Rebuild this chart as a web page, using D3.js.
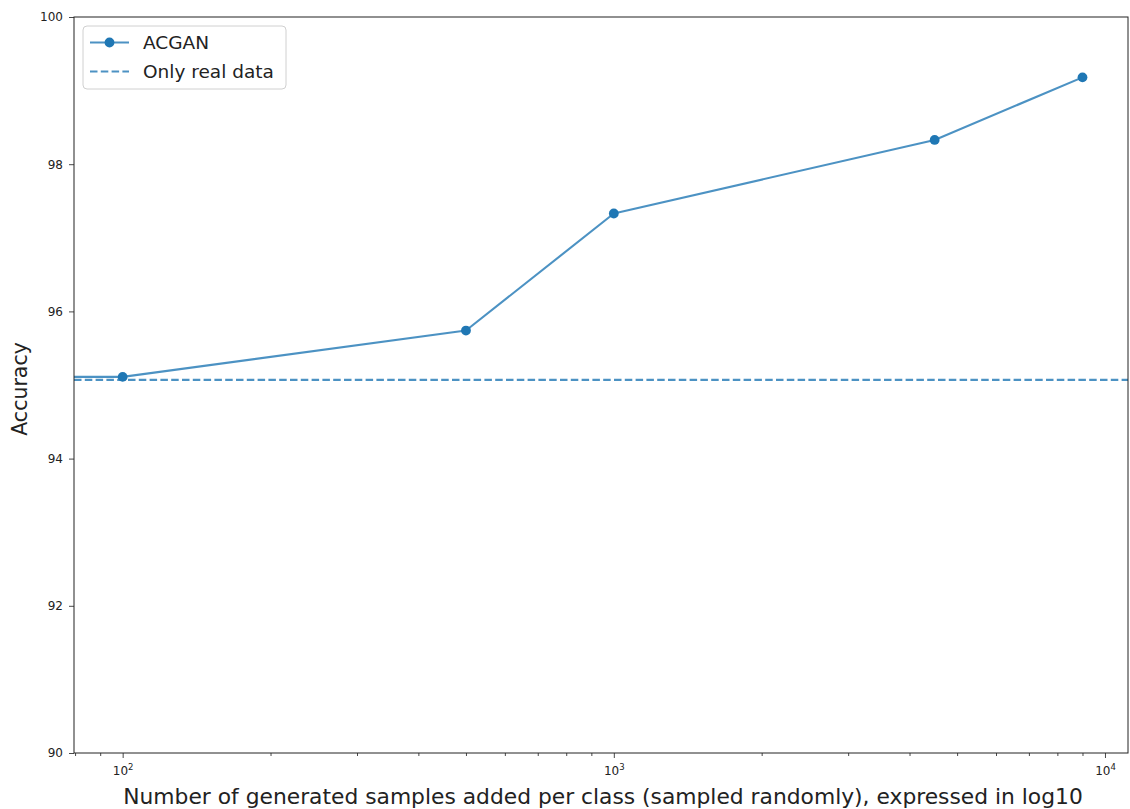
<!DOCTYPE html>
<html>
<head>
<meta charset="utf-8">
<script src="https://cdn.jsdelivr.net/npm/d3@7"></script>
<style>
  html, body { margin: 0; padding: 0; background: #fff; }
  svg { display: block; font-family: "DejaVu Sans", sans-serif; }
</style>
</head>
<body>
<svg id="chart" width="1130" height="809"></svg>
<script>
// Samples added per class (0 = baseline run, drawn to the left edge on the log axis)
const samples = [0, 100, 500, 1000, 4500, 9000];
const acganAccuracy = [95.11, 95.11, 95.74, 97.33, 98.33, 99.18];
const realOnlyAccuracy = 95.07;
const yTicks = [90, 92, 94, 96, 98, 100];
const xMajorTicks = [100, 1000, 10000];
const seriesNames = ["ACGAN", "Only real data"];

const W = 1130, H = 809;
const margin = { left: 74, right: 2, top: 17, bottom: 56 };
const blue = "#1f77b4";

const svg = d3.select("#chart");

const x = d3.scaleLog()
  .domain([79.6, 11140])
  .range([margin.left, W - margin.right])
  .clamp(true);
const y = d3.scaleLinear()
  .domain([90, 100])
  .range([H - margin.bottom, margin.top]);

const x0 = margin.left, x1 = W - margin.right;
const y0 = H - margin.bottom, y1 = margin.top;

// clip region for plotted data
svg.append("defs").append("clipPath").attr("id", "plotClip")
  .append("rect").attr("x", x0).attr("y", y1).attr("width", x1 - x0).attr("height", y0 - y1);

const plot = svg.append("g").attr("clip-path", "url(#plotClip)");

// baseline: real data only
plot.append("line")
  .attr("x1", x0).attr("x2", x1)
  .attr("y1", y(realOnlyAccuracy)).attr("y2", y(realOnlyAccuracy))
  .attr("stroke", blue).attr("stroke-opacity", 0.8)
  .attr("stroke-width", 2.1).attr("stroke-dasharray", "7.5,3.3");

const pts = samples.map((s, i) => ({ s, v: acganAccuracy[i] }));
plot.append("path")
  .datum(pts)
  .attr("fill", "none")
  .attr("stroke", blue).attr("stroke-opacity", 0.8)
  .attr("stroke-width", 2.1)
  .attr("stroke-linejoin", "round")
  .attr("d", d3.line().x(d => x(d.s)).y(d => y(d.v)));

plot.selectAll("circle.pt")
  .data(pts.filter(d => d.s > 0))
  .join("circle")
  .attr("class", "pt")
  .attr("cx", d => x(d.s)).attr("cy", d => y(d.v))
  .attr("r", 4.9).attr("fill", blue);

// axes
const xMinor = [];
for (let e = 1; e <= 4; e++) for (let m = 2; m <= 9; m++) {
  const v = m * Math.pow(10, e);
  if (v >= x.domain()[0] && v <= x.domain()[1]) xMinor.push(v);
}

const xAxisG = svg.append("g").attr("transform", `translate(0,${y0})`);
xAxisG.call(d3.axisBottom(x).tickValues(xMinor).tickSize(3).tickFormat(""))
  .call(g => g.select(".domain").remove());
const xMajorG = svg.append("g").attr("transform", `translate(0,${y0})`);
xMajorG.call(d3.axisBottom(x).tickValues(xMajorTicks).tickSize(5).tickFormat(""))
  .call(g => g.select(".domain").remove());
xAxisG.selectAll(".tick line").attr("stroke", "#333").attr("stroke-width", 0.9);
xMajorG.selectAll(".tick line").attr("stroke", "#333").attr("stroke-width", 0.9);

// superscript exponent labels
xMajorG.selectAll(".tick").each(function (d) {
  const t = d3.select(this).append("text")
    .attr("y", 22).attr("text-anchor", "middle")
    .attr("fill", "#222").attr("font-size", 12)
    .attr("font-family", "DejaVu Sans, sans-serif");
  t.append("tspan").text("10");
  t.append("tspan").attr("dy", -5).attr("font-size", 8.5)
    .text(Math.round(Math.log10(d)));
});

const yAxisG = svg.append("g").attr("transform", `translate(${x0},0)`);
yAxisG.call(d3.axisLeft(y).tickValues(yTicks).tickSize(5).tickPadding(6).tickFormat(d3.format("d")))
  .call(g => g.select(".domain").remove());
yAxisG.selectAll(".tick line").attr("stroke", "#333").attr("stroke-width", 0.9);
yAxisG.selectAll(".tick text")
  .attr("font-size", 12).attr("fill", "#222")
  .attr("font-family", "DejaVu Sans, sans-serif");

// frame
svg.append("rect")
  .attr("x", x0).attr("y", y1).attr("width", x1 - x0).attr("height", y0 - y1)
  .attr("fill", "none").attr("stroke", "#222").attr("stroke-width", 1);

// axis titles
svg.append("text")
  .attr("x", (x0 + x1) / 2 + 2).attr("y", 804)
  .attr("text-anchor", "middle").attr("font-size", 21.8).attr("fill", "#222")
  .text("Number of generated samples added per class (sampled randomly), expressed in log10");
svg.append("text")
  .attr("transform", `translate(27,${(y0 + y1) / 2 + 4}) rotate(-90)`)
  .attr("text-anchor", "middle").attr("font-size", 20.5).attr("fill", "#222")
  .text("Accuracy");

// legend
const leg = svg.append("g");
leg.append("rect")
  .attr("x", 83).attr("y", 26).attr("width", 203).attr("height", 63)
  .attr("rx", 4).attr("fill", "#fff").attr("fill-opacity", 0.8)
  .attr("stroke", "#d0d0d0").attr("stroke-width", 1);
const rows = [42.5, 71.5];
leg.append("line").attr("x1", 90).attr("x2", 129).attr("y1", rows[0]).attr("y2", rows[0])
  .attr("stroke", blue).attr("stroke-opacity", 0.8).attr("stroke-width", 2.1);
leg.append("circle").attr("cx", 109.5).attr("cy", rows[0]).attr("r", 4.9).attr("fill", blue);
leg.append("line").attr("x1", 90).attr("x2", 129).attr("y1", rows[1]).attr("y2", rows[1])
  .attr("stroke", blue).attr("stroke-opacity", 0.8).attr("stroke-width", 2.1)
  .attr("stroke-dasharray", "7.5,3.3");
seriesNames.forEach((n, i) => {
  leg.append("text").attr("x", 143).attr("y", rows[i] + 6.5)
    .attr("font-size", 18.5).attr("fill", "#222").text(n);
});
</script>
</body>
</html>
